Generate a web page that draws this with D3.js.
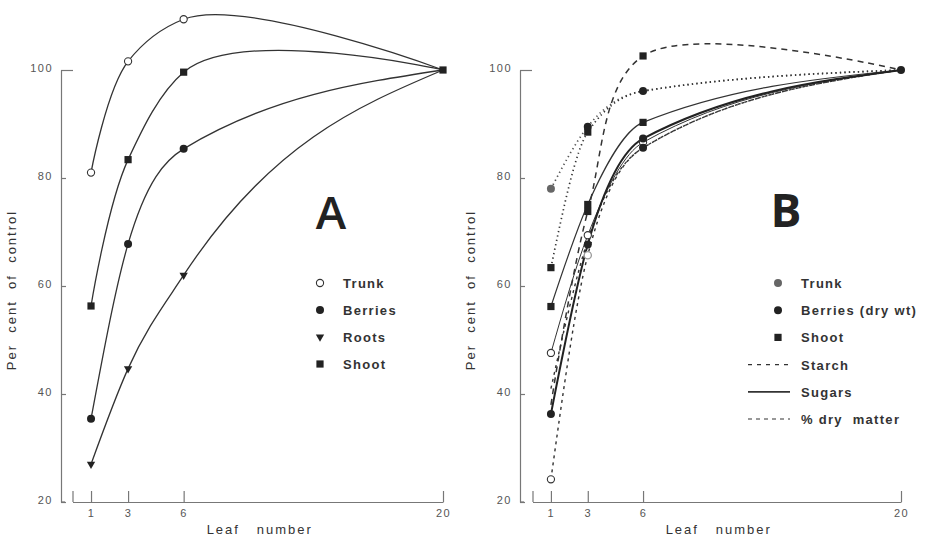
<!DOCTYPE html>
<html lang="en">
<head>
<meta charset="utf-8">
<title>Per cent of control vs leaf number</title>
<script src="https://cdn.jsdelivr.net/npm/d3@7"></script>
<style>
  body { margin: 0; background: #fff; }
  svg { display: block; font-family: "Liberation Sans", Arial, sans-serif; }
  .axis text { font-size: 11px; fill: #555; letter-spacing: 1.5px; font-family: "Liberation Sans", Arial, sans-serif; }
  .axis path, .axis line { stroke: #777; stroke-width: 1.2; }
  .axis-title { font-size: 13px; fill: #333; letter-spacing: 2px; }
  .legend-text { font-size: 13px; fill: #333; letter-spacing: 1.3px; font-weight: bold; }
  .big { font-family: "Open Sans", sans-serif; font-weight: 600; font-size: 46px; fill: #222; }
</style>
</head>
<body>
<script>
// shared categories / ticks
var leaves = [1, 3, 6, 20];
var xTicks = [0, 1, 3, 6, 20];
var yTicks = [20, 40, 60, 80, 100];

// panel A (per cent of control)
var trunkA   = [81, 101.6, 109.4, 100];
var berriesA = [35.4, 67.8, 85.4, 100];
var rootsA   = [27, 44.7, 62, 100];
var shootA   = [56.3, 83.4, 99.6, 100];

// panel B
var shootSugarsB = [56.2, 75.1, 90.3, 100];
var trunkSugarsB = [47.6, 69.4, 86.6, 100];
var berrySugarsB = [36.3, 67.7, 87.3, 100];
var shootStarchB = [38, 73.8, 102.6, 100];
var trunkStarchB = [78, 89.5, 96.1, 100];
var shootDryB    = [63.4, 88.5, 96.1, 100];
var trunkDryB    = [24.2, 65.7, 85.6, 100];
var berryDryB    = [41, 68.5, 85.6, 100];

var legendA = ["Trunk", "Berries", "Roots", "Shoot"];
var legendB = ["Trunk", "Berries (dry wt)", "Shoot", "Starch", "Sugars", "% dry  matter"];

var w = 926, h = 543;
var svg = d3.select("body").append("svg").attr("width", w).attr("height", h);

var y = d3.scaleLinear().domain([20, 100]).range([502, 70]);

// rising curves that level off use monotone; the ones that overshoot use catmull-rom
var rise = d3.curveMonotoneX;
var hump = d3.curveCatmullRom.alpha(0.75);

function marker(g, type, cx, cy) {
  if (type === "open") {
    g.append("circle").attr("cx", cx).attr("cy", cy).attr("r", 3.6)
      .attr("fill", "#fff").attr("stroke", "#333").attr("stroke-width", 1.1);
  } else if (type === "greyopen") {
    g.append("circle").attr("cx", cx).attr("cy", cy).attr("r", 3.6)
      .attr("fill", "#fff").attr("stroke", "#999").attr("stroke-width", 1.3);
  } else if (type === "dot") {
    g.append("circle").attr("cx", cx).attr("cy", cy).attr("r", 4)
      .attr("fill", "#222");
  } else if (type === "grey") {
    g.append("circle").attr("cx", cx).attr("cy", cy).attr("r", 4)
      .attr("fill", "#666");
  } else if (type === "sq") {
    g.append("rect").attr("x", cx - 3.6).attr("y", cy - 3.6)
      .attr("width", 7.2).attr("height", 7.2).attr("fill", "#222");
  } else if (type === "tri") {
    g.append("path")
      .attr("d", d3.symbol().type(d3.symbolTriangle).size(30)())
      .attr("transform", "translate(" + cx + "," + cy + ") rotate(180)")
      .attr("fill", "#222");
  }
}

function axes(x, axisX) {
  var gy = svg.append("g").attr("class", "axis")
    .attr("transform", "translate(" + axisX + ",0)")
    .call(d3.axisLeft(y).tickValues(yTicks).tickSize(-5).tickSizeOuter(0).tickPadding(8));
  gy.selectAll(".tick line").attr("x2", function(d) { return d === 100 ? 12 : 5; });
  gy.selectAll(".tick text").attr("dy", "0.1em");
  gy.append("line").attr("x1", 0).attr("x2", 4).attr("y1", y(20)).attr("y2", y(20))
    .attr("stroke", "#777").attr("stroke-width", 1.2);

  var gx = svg.append("g").attr("class", "axis")
    .attr("transform", "translate(0," + y(20) + ")")
    .call(d3.axisBottom(x).tickValues(xTicks).tickSize(-11).tickSizeOuter(0).tickPadding(7)
      .tickFormat(function(d) { return d === 0 ? "" : d; }));
  gx.select(".domain").attr("stroke", "#777");

  svg.append("text").attr("class", "axis-title")
    .attr("x", (x(0) + x(20)) / 2 + 2).attr("y", 534)
    .attr("text-anchor", "middle").attr("xml:space", "preserve")
    .text("Leaf   number");

  svg.append("text").attr("class", "axis-title")
    .attr("transform", "translate(" + (axisX - 45) + ",290) rotate(-90)")
    .attr("text-anchor", "middle").attr("xml:space", "preserve")
    .text("Per  cent  of  control");
}

function series(x, values, curve, dash, width, color) {
  svg.append("path").datum(values)
    .attr("d", d3.line()
      .x(function(d, i) { return x(leaves[i]); })
      .y(function(d) { return y(d); })
      .curve(curve))
    .attr("fill", "none")
    .attr("stroke", color)
    .attr("stroke-width", width)
    .attr("stroke-dasharray", dash)
    .attr("stroke-linecap", dash ? "butt" : "round");
}

function marks(x, values, types) {
  var g = svg.append("g");
  values.forEach(function(v, i) {
    if (types[i]) marker(g, types[i], x(leaves[i]), y(v));
  });
}

// ---------- Panel A ----------
var xA = d3.scaleLinear().domain([0, 20]).range([72.5, 443]);
axes(xA, 61);

series(xA, trunkA, hump, null, 1.3, "#333");
series(xA, shootA, d3.curveCatmullRom.alpha(0.92), null, 1.3, "#333");
series(xA, berriesA, rise, null, 1.3, "#333");
series(xA, rootsA, rise, null, 1.3, "#333");
marks(xA, rootsA, ["tri", "tri", "tri", null]);
marks(xA, berriesA, ["dot", "dot", "dot", null]);
marks(xA, trunkA, ["open", "open", "open", null]);
marks(xA, shootA, ["sq", "sq", "sq", "sq"]);

svg.append("text").attr("class", "big").attr("x", 331).attr("y", 229)
  .attr("text-anchor", "middle").text("A");

var legA = svg.append("g");
var typesA = ["open", "dot", "tri", "sq"];
var rowsA = d3.scaleLinear().domain([0, 3]).range([283, 364]);
legendA.forEach(function(t, i) {
  marker(legA, typesA[i], 320, rowsA(i));
  legA.append("text").attr("class", "legend-text")
    .attr("x", 343).attr("y", rowsA(i) + 5).text(t);
});

// ---------- Panel B ----------
var xB = d3.scaleLinear().domain([0, 20]).range([532.5, 901]);
axes(xB, 520);

series(xB, trunkStarchB, rise, "1.3,3.2", 1.7, "#555");
series(xB, shootDryB, rise, "1.3,3.2", 1.7, "#333");
series(xB, shootStarchB, d3.curveCatmullRom.alpha(0.5), "6,5", 1.5, "#333");
series(xB, trunkDryB, rise, "3,4", 1.4, "#333");
series(xB, berryDryB, rise, "3,4", 1.4, "#333");
series(xB, shootSugarsB, rise, null, 1.2, "#333");
series(xB, trunkSugarsB, rise, null, 1.0, "#333");
series(xB, berrySugarsB, rise, null, 2.0, "#222");

marks(xB, trunkStarchB, ["grey", "dot", "dot", null]);
marks(xB, shootDryB, ["sq", "sq", null, null]);
marks(xB, shootStarchB, [null, "sq", "sq", null]);
marks(xB, shootSugarsB, ["sq", "sq", "sq", null]);
marks(xB, trunkSugarsB, ["open", "open", "open", null]);
marks(xB, trunkDryB, ["open", "greyopen", "dot", null]);
marks(xB, berrySugarsB, ["dot", "dot", "dot", "dot"]);

svg.append("text").attr("class", "big").attr("x", 786).attr("y", 227)
  .attr("text-anchor", "middle").style("font-weight", 700).text("B");

var legB = svg.append("g");
var rowsB = d3.scaleLinear().domain([0, 5]).range([283, 419]);
var typesB = ["grey", "dot", "sq"];
var dashB = ["4,5", null, "4,4"];
legendB.forEach(function(t, i) {
  if (i < 3) {
    marker(legB, typesB[i], 778, rowsB(i));
  } else {
    legB.append("line").attr("x1", 748).attr("x2", 790)
      .attr("y1", rowsB(i)).attr("y2", rowsB(i))
      .attr("stroke", "#333").attr("stroke-width", i === 4 ? 1.8 : 1.2)
      .attr("stroke-dasharray", dashB[i - 3]);
  }
  legB.append("text").attr("class", "legend-text").attr("xml:space", "preserve")
    .attr("x", 801).attr("y", rowsB(i) + 5).text(t);
});
</script>
</body>
</html>
